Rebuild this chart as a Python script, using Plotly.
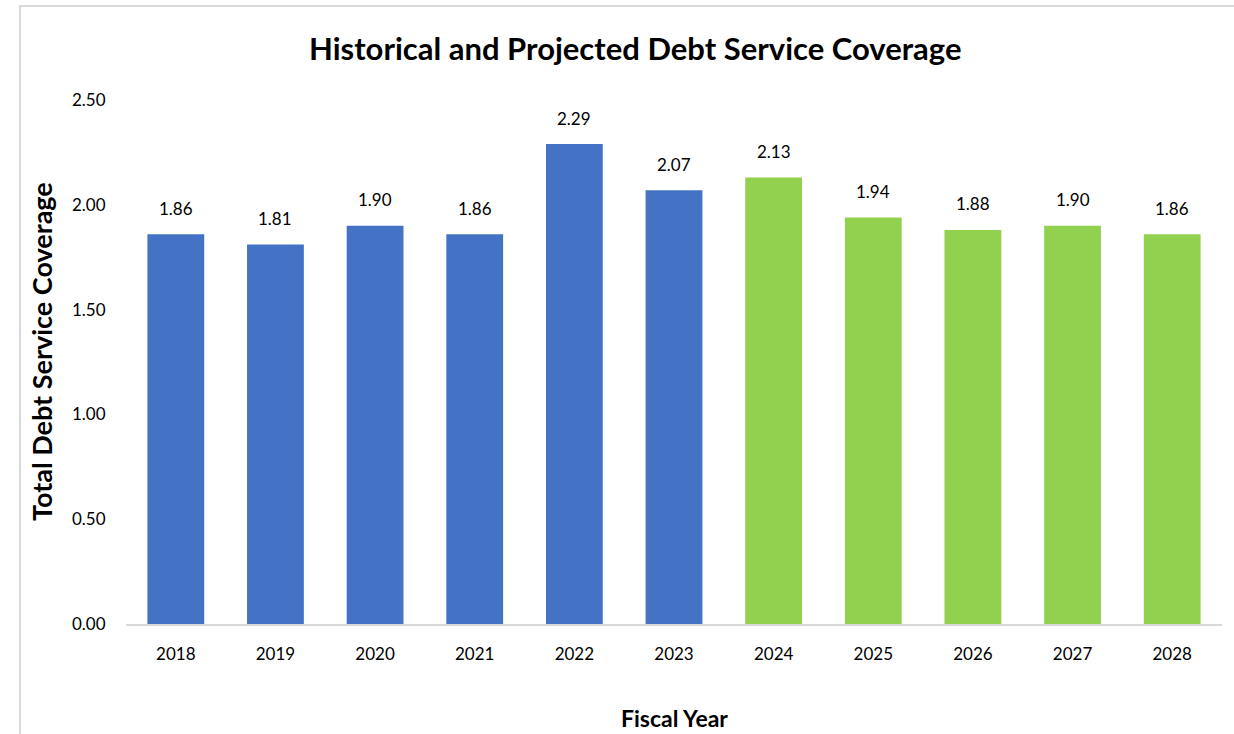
import plotly.graph_objects as go

years = ["2018", "2019", "2020", "2021", "2022", "2023", "2024", "2025", "2026", "2027", "2028"]
coverage = [1.86, 1.81, 1.90, 1.86, 2.29, 2.07, 2.13, 1.94, 1.88, 1.90, 1.86]
historical_flag = [True, True, True, True, True, True, False, False, False, False, False]
y_ticks = [0.0, 0.5, 1.0, 1.5, 2.0, 2.5]

BLUE = "#4472C4"
GREEN = "#92D050"
FONT = "Lato"

colors = [BLUE if h else GREEN for h in historical_flag]

fig = go.Figure()
fig.add_trace(go.Bar(
    x=years, y=coverage, marker=dict(color=colors, line=dict(width=0)),
    width=0.57, hoverinfo="x+y",
))

# data labels: category index on the category axis
for i, v in enumerate(coverage):
    fig.add_annotation(x=i, y=v, xref="x", yref="y", text=f"{v:.2f}", showarrow=False,
                       xanchor="center", yanchor="middle",
                       yshift=26, font=dict(family=FONT, size=17, color="#000000"))

L, R, T, B = 126, 12, 100, 110
W, H = 1234, 734
pw, ph = W - L - R, H - T - B

def px(x):
    return (x - L) / pw

def py(y):
    return (H - B - y) / ph

fig.add_annotation(xref="paper", yref="paper", x=px(635), y=py(48),
                   xanchor="center", yanchor="middle",
                   text="<b>Historical and Projected Debt Service Coverage</b>",
                   showarrow=False, font=dict(family=FONT, size=31, color="#000000"))
fig.add_annotation(xref="paper", yref="paper", x=px(41), y=py(352), textangle=-90,
                   xanchor="center", yanchor="middle",
                   text="<b>Total Debt Service Coverage</b>",
                   showarrow=False, font=dict(family=FONT, size=27, color="#000000"))
fig.add_annotation(xref="paper", yref="paper", x=px(674), y=py(718),
                   xanchor="center", yanchor="middle",
                   text="<b>Fiscal Year</b>",
                   showarrow=False, font=dict(family=FONT, size=23, color="#000000"))

fig.add_shape(type="rect", xref="paper", yref="paper",
              x0=px(20), x1=px(1300), y0=py(800), y1=py(6),
              line=dict(color="#d9d9d9", width=2), fillcolor="rgba(0,0,0,0)", layer="below")

fig.update_layout(
    width=W, height=H,
    margin=dict(l=L, r=R, t=T, b=B),
    paper_bgcolor="white", plot_bgcolor="white",
    showlegend=False,
    font=dict(family=FONT, color="#000000"),
    xaxis=dict(type="category", categoryorder="array", categoryarray=years,
               range=[-0.5, len(years) - 0.5],
               showline=True, linecolor="#d9d9d9", linewidth=2, showgrid=False,
               ticks="outside", ticklen=14, tickcolor="rgba(0,0,0,0)",
               tickfont=dict(family=FONT, size=17, color="#000000")),
    yaxis=dict(range=[0, 2.5], tickvals=y_ticks, tickformat=".2f", showgrid=False,
               showline=False, zeroline=False,
               ticks="outside", ticklen=16, tickcolor="rgba(0,0,0,0)",
               tickfont=dict(family=FONT, size=17, color="#000000")),
)

fig.write_html("out.html")
